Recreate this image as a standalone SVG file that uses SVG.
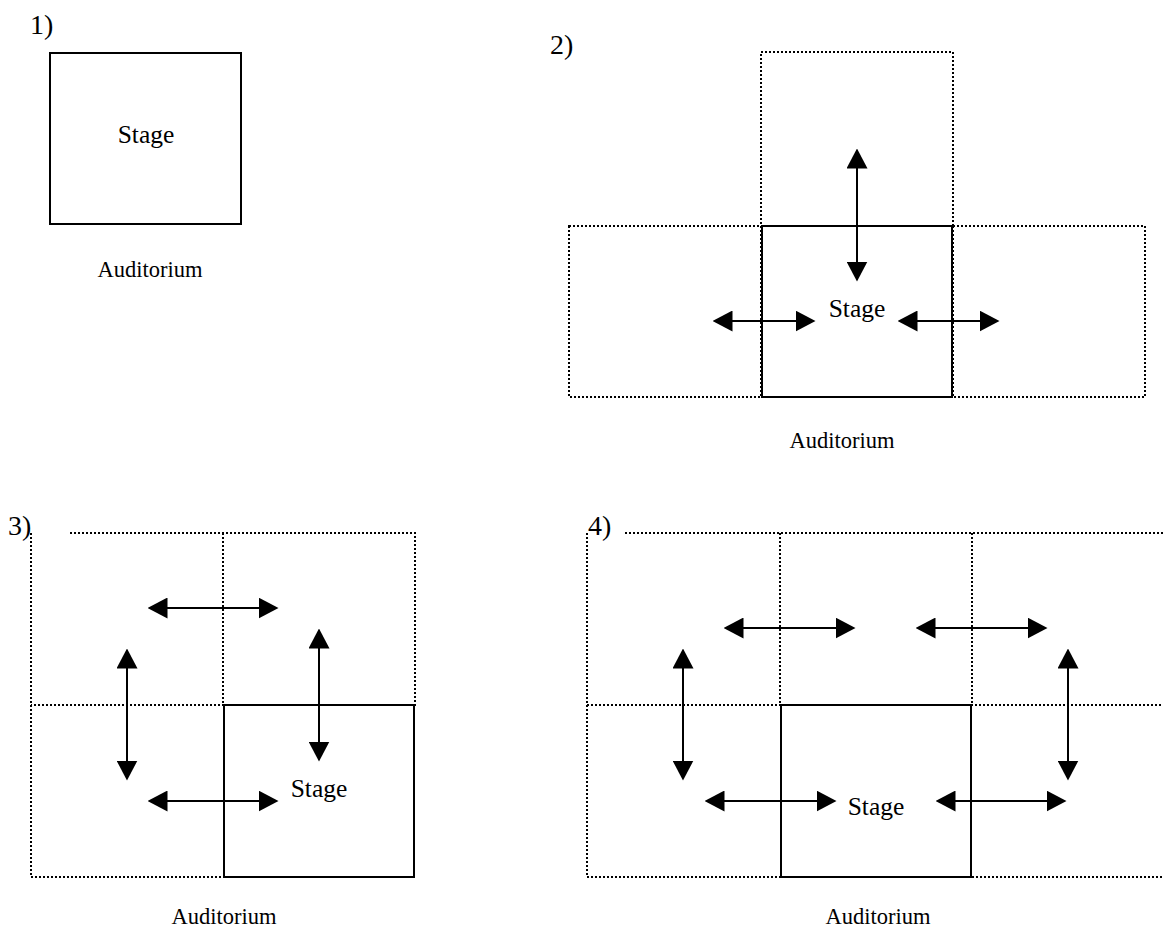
<svg xmlns="http://www.w3.org/2000/svg" width="1163" height="936" viewBox="0 0 1163 936">
  <style>
    text { font-family: "Liberation Serif", "Times New Roman", serif; fill: #000; }
    .num { font-size: 28px; }
    .stage { font-size: 25.5px; text-anchor: middle; }
    .aud { font-size: 22.5px; text-anchor: middle; }
    .solid { fill: none; stroke: #000; stroke-width: 2; }
    .dot { fill: none; stroke: #000; stroke-width: 2; stroke-dasharray: 2 2; }
    .arrow { fill: none; stroke: #000; stroke-width: 2; marker-start: url(#head); marker-end: url(#head); }
  </style>
  <defs>
    <marker id="head" viewBox="0 0 20 21" refX="0.5" refY="10.5" markerWidth="20" markerHeight="21" markerUnits="userSpaceOnUse" orient="auto-start-reverse">
      <path d="M0,0 L20,10.5 L0,21 Z" fill="#000"/>
    </marker>
  </defs>
  <rect width="1163" height="936" fill="#fff"/>

  <!-- 1) single stage -->
  <g id="panel1">
    <text class="num" x="30" y="34">1)</text>
    <g id="p1-stage">
      <rect class="solid" x="50" y="53" width="191" height="171"/>
      <text class="stage" x="146" y="143">Stage</text>
    </g>
    <text id="p1-auditorium" class="aud" x="150" y="277">Auditorium</text>
  </g>

  <!-- 2) stage with left, right and rear areas -->
  <g id="panel2">
    <text class="num" x="550" y="54">2)</text>
    <rect id="p2-rear" class="dot" x="761" y="52" width="192" height="174"/>
    <rect id="p2-left" class="dot" x="569" y="226" width="192" height="171"/>
    <rect id="p2-right" class="dot" x="953" y="226" width="192" height="171"/>
    <g id="p2-stage">
      <rect class="solid" x="762" y="226" width="190" height="171"/>
      <text class="stage" x="857" y="317">Stage</text>
    </g>
    <text id="p2-auditorium" class="aud" x="842" y="448">Auditorium</text>
  </g>

  <!-- 3) 2 x 2 grid -->
  <g id="panel3">
    <text class="num" x="8" y="535">3)</text>
    <g id="p3-grid">
      <path class="dot" d="M70,533 H415 V705 H31 M31,533 V877 H223 M223,533 V705"/>
    </g>
    <g id="p3-stage">
      <rect class="solid" x="224" y="705" width="190" height="172"/>
      <text class="stage" x="319" y="797">Stage</text>
    </g>
    <text id="p3-auditorium" class="aud" x="224" y="924">Auditorium</text>
  </g>

  <!-- 4) 3 x 2 grid -->
  <g id="panel4">
    <text class="num" x="588" y="535">4)</text>
    <g id="p4-grid">
      <path class="dot" d="M625,533 H1163 M587,533 V877 H780 M587,705 H1163 M780,533 V705 M972,533 V705 M972,877 H1163"/>
    </g>
    <g id="p4-stage">
      <rect class="solid" x="781" y="705" width="190" height="172"/>
      <text class="stage" x="876" y="815">Stage</text>
    </g>
    <text id="p4-auditorium" class="aud" x="878" y="924">Auditorium</text>
  </g>

  <!-- two-way movement arrows -->
  <g id="connectors">
    <line class="arrow" x1="857" y1="168" x2="857" y2="262"/>
    <line class="arrow" x1="732" y1="321" x2="796" y2="321"/>
    <line class="arrow" x1="917" y1="321" x2="980" y2="321"/>

    <line class="arrow" x1="167" y1="608" x2="259" y2="608"/>
    <line class="arrow" x1="127" y1="668" x2="127" y2="761"/>
    <line class="arrow" x1="319" y1="648" x2="319" y2="742"/>
    <line class="arrow" x1="167" y1="801" x2="259" y2="801"/>

    <line class="arrow" x1="743" y1="628" x2="836" y2="628"/>
    <line class="arrow" x1="935" y1="628" x2="1028" y2="628"/>
    <line class="arrow" x1="683" y1="668" x2="683" y2="761"/>
    <line class="arrow" x1="1068" y1="668" x2="1068" y2="761"/>
    <line class="arrow" x1="724" y1="801" x2="817" y2="801"/>
    <line class="arrow" x1="955" y1="801" x2="1047" y2="801"/>
  </g>
</svg>
